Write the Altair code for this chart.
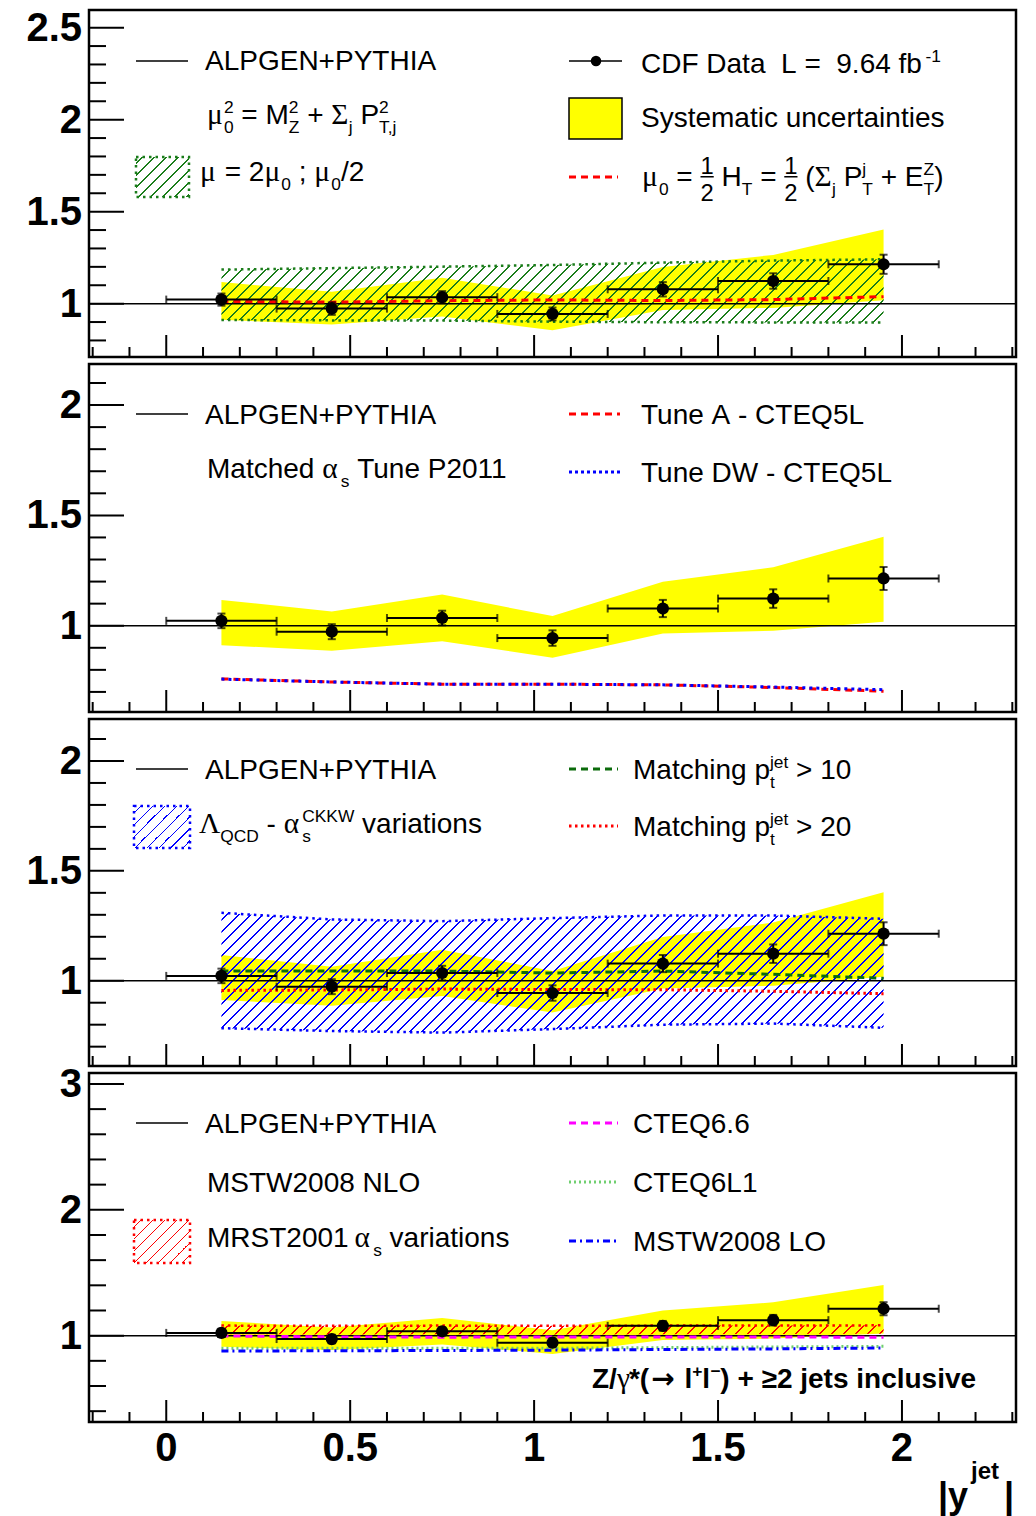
import altair as alt
import pandas as pd

FONT = "Liberation Sans"
SERIF = "Liberation Serif"
ARROWFONT = "DejaVu Sans"

# ---------------- data ----------------
bin_lo = [0.0, 0.3, 0.6, 0.9, 1.2, 1.5, 1.8]
bin_hi = [0.3, 0.6, 0.9, 1.2, 1.5, 1.8, 2.1]
bin_center = [0.15, 0.45, 0.75, 1.05, 1.35, 1.65, 1.95]
cdf_ratio = [1.022, 0.973, 1.035, 0.944, 1.078, 1.123, 1.214]
stat_err = [0.033, 0.034, 0.033, 0.035, 0.039, 0.042, 0.052]
syst_up = [1.117, 1.064, 1.141, 1.044, 1.199, 1.265, 1.403]
syst_dn = [0.912, 0.886, 0.930, 0.855, 0.965, 0.977, 1.018]
# panel 1 : scale variations
scale_up = [1.185, 1.193, 1.201, 1.210, 1.223, 1.234, 1.241]
scale_dn = [0.911, 0.909, 0.908, 0.902, 0.899, 0.898, 0.897]
ht_half = [1.012, 1.008, 1.016, 1.020, 1.017, 1.022, 1.038]
# panel 2 : tunes
tune_a = [0.759, 0.745, 0.735, 0.735, 0.732, 0.720, 0.703]
tune_dw = [0.758, 0.745, 0.735, 0.735, 0.732, 0.722, 0.710]
# panel 3 : Lambda_QCD / matching
lqcd_up = [1.309, 1.279, 1.271, 1.285, 1.297, 1.297, 1.282]
lqcd_dn = [0.784, 0.771, 0.764, 0.780, 0.800, 0.805, 0.786]
match10 = [1.044, 1.044, 1.044, 1.035, 1.044, 1.029, 1.011]
match20 = [0.956, 0.958, 0.962, 0.960, 0.959, 0.952, 0.941]
# panel 4 : PDFs
mrst_up = [1.080, 1.078, 1.080, 1.078, 1.080, 1.080, 1.082]
mrst_dn = [1.012, 1.010, 1.012, 1.010, 1.012, 1.014, 1.016]
cteq66 = [0.998, 0.990, 0.988, 0.990, 0.990, 0.990, 0.987]
cteq6l1 = [0.900, 0.900, 0.900, 0.900, 0.905, 0.910, 0.915]
mstw_lo = [0.878, 0.880, 0.882, 0.885, 0.890, 0.895, 0.902]

# axis ticks / labels
x_major = [0, 0.5, 1, 1.5, 2]
x_labels = ["0", "0.5", "1", "1.5", "2"]
x_minor = [-0.2, -0.1, 0.1, 0.2, 0.3, 0.4, 0.6, 0.7, 0.8, 0.9, 1.1, 1.2,
           1.3, 1.4, 1.6, 1.7, 1.8, 1.9, 2.1, 2.2, 2.3]
y_major = [[1, 1.5, 2, 2.5], [1, 1.5, 2], [1, 1.5, 2], [1, 2, 3]]
y_labels = [["1", "1.5", "2", "2.5"], ["1", "1.5", "2"], ["1", "1.5", "2"], ["1", "2", "3"]]
y_minor = [
    [0.8, 0.9, 1.1, 1.2, 1.3, 1.4, 1.6, 1.7, 1.8, 1.9, 2.1, 2.2, 2.3, 2.4],
    [0.7, 0.8, 0.9, 1.1, 1.2, 1.3, 1.4, 1.6, 1.7, 1.8, 1.9, 2.1],
    [0.7, 0.8, 0.9, 1.1, 1.2, 1.3, 1.4, 1.6, 1.7, 1.8, 1.9, 2.1],
    [0.4, 0.6, 0.8, 1.2, 1.4, 1.6, 1.8, 2.2, 2.4, 2.6, 2.8],
]

df = pd.DataFrame({
    "x": bin_center, "lo": bin_lo, "hi": bin_hi,
    "data": cdf_ratio, "err": stat_err,
    "syst_up": syst_up, "syst_dn": syst_dn,
    "scale_up": scale_up, "scale_dn": scale_dn, "ht_half": ht_half,
    "tune_a": tune_a, "tune_dw": tune_dw,
    "lqcd_up": lqcd_up, "lqcd_dn": lqcd_dn, "match10": match10, "match20": match20,
    "mrst_up": mrst_up, "mrst_dn": mrst_dn, "cteq66": cteq66,
    "cteq6l1": cteq6l1, "mstw_lo": mstw_lo,
})
df["stat_lo"] = df["data"] - df["err"]
df["stat_hi"] = df["data"] + df["err"]

# ---------------- layout ----------------
XDOM = [-0.21, 2.31]
W = 927
PANEL_H = [347, 348, 347, 349]
YDOM = [[0.71, 2.596], [0.609, 2.186], [0.612, 2.191], [0.314, 3.087]]

YELLOW = "#ffff00"
GREEN_H = "#1b7d1b"
DKGREEN = "#0b6b0b"
LTGREEN = "#6fcf6f"
RED = "#ff0000"
BLUE = "#0000ff"
MAGENTA = "#ff00ff"
CLEAR = "rgba(255,255,255,0)"

ONE = pd.DataFrame({"k": [0]})


def hatch(color, w, h, spacing=12.0, lw=1.25):
    """Diagonal '/' hatching as a striped linear gradient in bbox units."""
    L = w + h
    stops = []
    k = 0
    while True:
        a = (k + 0.5) * spacing / L
        if a >= 1:
            break
        b = min(1.0, a + lw * 1.4142 / L)
        stops += [{"offset": a, "color": CLEAR}, {"offset": a, "color": color},
                  {"offset": b, "color": color}, {"offset": b, "color": CLEAR}]
        k += 1
    d = w * w + h * h
    return {"gradient": "linear", "x1": 0, "y1": 0,
            "x2": L * w / d, "y2": L * h / d, "stops": stops}


W_REG = {" ": 278, "(": 333, ")": 333, "*": 389, "+": 584, ",": 278, "-": 333,
         ".": 278, "/": 278, ";": 278, "=": 584, ">": 584, "|": 260,
         "≥": 549, "−": 584,
         "A": 667, "C": 722, "D": 722, "E": 667, "G": 778, "H": 722, "I": 278,
         "K": 667, "L": 556, "M": 833, "N": 722, "O": 778, "P": 667, "Q": 778,
         "R": 722, "S": 667, "T": 611, "W": 944, "Y": 667, "Z": 611,
         "a": 556, "c": 500, "d": 556, "e": 556, "f": 278, "g": 556, "h": 556,
         "i": 222, "j": 222, "l": 222, "m": 833, "n": 556, "o": 556, "p": 556,
         "r": 333, "s": 500, "t": 278, "u": 556, "v": 500, "y": 500}
W_BOLD = dict(W_REG)
W_BOLD.update({"|": 280, "c": 556, "e": 556, "i": 278, "j": 278, "l": 278,
               "n": 611, "s": 556, "t": 333, "u": 611, "v": 556, "y": 556,
               "o": 611})
W_GREEK = {"μ": 576, "α": 631, "Σ": 592, "Λ": 722, "γ": 411}


def tw(s, size, bold=False, greek=False):
    tbl = W_GREEK if greek else (W_BOLD if bold else W_REG)
    return sum(tbl.get(c, 556) for c in s) * size / 1000.0


def txt(t, x, y, size=28, font=FONT, bold=False, color="black"):
    # leading blanks are dropped by the renderer: turn them into an x shift
    n = len(t) - len(t.lstrip(" "))
    x = x + tw(" " * n, size, bold)
    t = t.strip(" ").replace(" ", "\u00a0")
    return alt.Chart(ONE).mark_text(
        text=t, align="left", baseline="alphabetic",
        font=font, fontSize=size, fontWeight="bold" if bold else "normal",
        color=color,
    ).encode(x=alt.value(x), y=alt.value(y))


def hline(x1, x2, y, color, width, dash=None):
    kw = dict(color=color, strokeWidth=width)
    if dash:
        kw["strokeDash"] = dash
    return alt.Chart(ONE).mark_rule(**kw).encode(
        x=alt.value(x1), x2=alt.value(x2), y=alt.value(y))


def box(x1, x2, y1, y2, fill, stroke, width, dash=None):
    kw = dict(fill=fill, stroke=stroke, strokeWidth=width, opacity=1)
    if dash:
        kw["strokeDash"] = dash
    return alt.Chart(ONE).mark_rect(**kw).encode(
        x=alt.value(x1), x2=alt.value(x2), y=alt.value(y1), y2=alt.value(y2))


def rich(parts, x, base, size=28, bold=False):
    out = []
    sm = size * 0.62
    up = base - size * 0.38
    dn = base + size * 0.32
    for p in parts:
        k = p[0]
        if k == "t":
            out.append(txt(p[1], x, base, size, FONT, bold))
            x += tw(p[1], size, bold)
        elif k == "g":
            gs = size * 1.05
            out.append(txt(p[1], x, base, gs, SERIF, False))
            x += tw(p[1], gs, greek=True)
        elif k == "arrow":
            out.append(txt("→", x + 2, base, size, ARROWFONT, bold))
            x += 0.838 * size + 4
        elif k == "sup":
            out.append(txt(p[1], x, up, sm, FONT, bold))
            x += tw(p[1], sm, bold)
        elif k == "sub":
            out.append(txt(p[1], x, dn, sm, FONT, bold))
            x += tw(p[1], sm, bold)
        elif k == "ss":
            out.append(txt(p[1], x, up, sm, FONT, bold))
            out.append(txt(p[2], x, dn, sm, FONT, bold))
            x += max(tw(p[1], sm, bold), tw(p[2], sm, bold))
        elif k == "sp":
            x += p[1]
        elif k == "frac":
            fs = size * 0.85
            fw = max(tw(p[1], fs, bold), tw(p[2], fs, bold))
            bar = base - size * 0.33
            out.append(txt(p[1], x + (fw - tw(p[1], fs, bold)) / 2, bar - 3, fs, FONT, bold))
            out.append(txt(p[2], x + (fw - tw(p[2], fs, bold)) / 2, bar + 24, fs, FONT, bold))
            out.append(hline(x, x + fw, bar, "black", 1.5))
            x += fw
    return out


def build_panel(i, show_x, content, legend):
    H = PANEL_H[i]
    xs = alt.Scale(domain=XDOM, nice=False, zero=False)
    ys = alt.Scale(domain=YDOM[i], nice=False, zero=False)
    ppx = W / (XDOM[1] - XDOM[0])
    ppy = H / (YDOM[i][1] - YDOM[i][0])

    def X(f):
        return alt.X(f, type="quantitative", scale=xs, axis=None)

    def Y(f):
        return alt.Y(f, type="quantitative", scale=ys, axis=None)

    layers = [alt.Chart(df).mark_area(fill=YELLOW, strokeWidth=0, opacity=1).encode(
        x=X("x"), y=Y("syst_dn"), y2=alt.Y2("syst_up"))]

    def hband(lo, hi, color):
        w = (bin_center[-1] - bin_center[0]) * ppx
        h = (df[hi].max() - df[lo].min()) * ppy
        return alt.Chart(df).mark_area(fill=hatch(color, w, h), strokeWidth=0, opacity=1).encode(
            x=X("x"), y=Y(lo), y2=alt.Y2(hi))

    def line(f, color, width, dash=None):
        kw = dict(color=color, strokeWidth=width)
        if dash:
            kw["strokeDash"] = dash
        return alt.Chart(df).mark_line(**kw).encode(x=X("x"), y=Y(f))

    alp = alt.Chart(ONE).mark_rule(color="black", strokeWidth=1.5).encode(
        y=alt.YDatum(1, scale=ys, axis=None, type="quantitative"),
        x=alt.value(0), x2=alt.value(W))

    for item in content:
        kind = item[0]
        if kind == "hband":
            layers.append(hband(item[1], item[2], item[3]))
        elif kind == "line":
            layers.append(line(*item[1:]))
        elif kind == "alp":
            layers.append(alp)

    # data points
    layers += [
        alt.Chart(df).mark_rule(color="black", strokeWidth=2).encode(
            x=X("lo"), x2=alt.X2("hi"), y=Y("data")),
        alt.Chart(df).mark_tick(color="black", orient="vertical", size=8, thickness=2).encode(
            x=X("lo"), y=Y("data")),
        alt.Chart(df).mark_tick(color="black", orient="vertical", size=8, thickness=2).encode(
            x=X("hi"), y=Y("data")),
        alt.Chart(df).mark_rule(color="black", strokeWidth=2).encode(
            x=X("x"), y=Y("stat_lo"), y2=alt.Y2("stat_hi")),
        alt.Chart(df).mark_tick(color="black", orient="horizontal", size=8, thickness=2).encode(
            x=X("x"), y=Y("stat_lo")),
        alt.Chart(df).mark_tick(color="black", orient="horizontal", size=8, thickness=2).encode(
            x=X("x"), y=Y("stat_hi")),
        alt.Chart(df).mark_circle(color="black", size=150, opacity=1).encode(
            x=X("x"), y=Y("data")),
    ]

    # ROOT style inner ticks + tick labels
    layers += [
        alt.Chart(pd.DataFrame({"v": y_major[i]})).mark_rule(color="black", strokeWidth=2).encode(
            y=Y("v:Q"), x=alt.value(0), x2=alt.value(35)),
        alt.Chart(pd.DataFrame({"v": y_minor[i]})).mark_rule(color="black", strokeWidth=2).encode(
            y=Y("v:Q"), x=alt.value(0), x2=alt.value(17)),
        alt.Chart(pd.DataFrame({"v": x_major})).mark_rule(color="black", strokeWidth=2).encode(
            x=X("v:Q"), y=alt.value(H), y2=alt.value(H - 22)),
        alt.Chart(pd.DataFrame({"v": x_minor})).mark_rule(color="black", strokeWidth=2).encode(
            x=X("v:Q"), y=alt.value(H), y2=alt.value(H - 10)),
        alt.Chart(pd.DataFrame({"v": y_major[i], "lab": y_labels[i]})).mark_text(
            align="right", baseline="middle", font=FONT, fontSize=40, fontWeight="bold",
            color="black", dx=-7, dy=1).encode(
            y=Y("v:Q"), x=alt.value(0), text="lab:N"),
    ]
    if show_x:
        layers.append(
            alt.Chart(pd.DataFrame({"v": x_major, "lab": x_labels})).mark_text(
                align="center", baseline="top", font=FONT, fontSize=40, fontWeight="bold",
                color="black").encode(
                x=X("v:Q"), y=alt.value(H + 7), text="lab:N"))
    layers += legend
    return alt.layer(*layers).properties(width=W, height=H)


# ---------------- panel 1 ----------------
leg1 = [hline(47, 99, 51, "black", 1.5), txt("ALPGEN+PYTHIA", 116, 60)]
leg1 += rich([("g", "μ"), ("ss", "2", "0"), ("t", " = M"), ("ss", "2", "Z"), ("t", " + "),
              ("g", "Σ"), ("sub", "j"), ("t", " P"), ("ss", "2", "T,j")], 118, 114)
leg1 += [box(47, 100, 147, 187, hatch(GREEN_H, 53, 40), GREEN_H, 2.5, [2.5, 4])]
leg1 += rich([("g", "μ"), ("t", " = 2"), ("g", "μ"), ("sub", "0"), ("t", " ; "),
              ("g", "μ"), ("sub", "0"), ("t", "/2")], 111, 171)
leg1 += [hline(480, 533, 51, "black", 1.5),
         alt.Chart(ONE).mark_circle(color="black", size=110, opacity=1).encode(
             x=alt.value(507), y=alt.value(51))]
leg1 += rich([("t", "CDF Data  L =  9.64 fb"), ("sp", 5), ("sup", "-1")], 552, 63)
leg1 += [box(480, 533, 88, 129, YELLOW, "black", 1.5), txt("Systematic uncertainties", 552, 117)]
leg1 += [hline(480, 529, 167, RED, 3, [7, 5])]
leg1 += rich([("g", "μ"), ("sub", "0"), ("t", " = "), ("frac", "1", "2"), ("t", " H"),
              ("sub", "T"), ("t", " = "), ("frac", "1", "2"), ("t", " ("), ("g", "Σ"),
              ("sub", "j"), ("t", " P"), ("ss", "j", "T"), ("t", " + E"), ("ss", "Z", "T"),
              ("t", ")")], 553, 176)

content1 = [("hband", "scale_dn", "scale_up", GREEN_H),
            ("line", "scale_up", GREEN_H, 2.5, [2.5, 4]),
            ("line", "scale_dn", GREEN_H, 2.5, [2.5, 4]),
            ("alp",),
            ("line", "ht_half", RED, 3, [7, 5])]

# ---------------- panel 2 ----------------
leg2 = [hline(47, 99, 50, "black", 1.5), txt("ALPGEN+PYTHIA", 116, 60)]
leg2 += rich([("t", "Matched "), ("g", "α"), ("sub", "s"), ("t", " Tune P2011")], 118, 114)
leg2 += [hline(480, 531, 50, RED, 3, [7, 5]), txt("Tune A - CTEQ5L", 552, 60),
         hline(480, 531, 108, BLUE, 3, [3, 3]), txt("Tune DW - CTEQ5L", 552, 118)]
content2 = [("alp",),
            ("line", "tune_a", RED, 3, [7, 5]),
            ("line", "tune_dw", BLUE, 3, [3, 4])]

# ---------------- panel 3 ----------------
leg3 = [hline(47, 99, 50, "black", 1.5), txt("ALPGEN+PYTHIA", 116, 60)]
leg3 += [box(45, 101, 87, 129, hatch(BLUE, 56, 42), BLUE, 2.5, [2.5, 4])]
leg3 += rich([("g", "Λ"), ("sub", "QCD"), ("t", " - "), ("g", "α"), ("ss", "CKKW", "s"),
              ("t", " variations")], 110, 114)
leg3 += [hline(480, 529, 50, DKGREEN, 3, [7, 5])]
leg3 += rich([("t", "Matching p"), ("ss", "jet", "t"), ("t", " > 10")], 544, 60)
leg3 += [hline(480, 529, 107, RED, 3, [2.5, 3.5])]
leg3 += rich([("t", "Matching p"), ("ss", "jet", "t"), ("t", " > 20")], 544, 117)
content3 = [("hband", "lqcd_dn", "lqcd_up", BLUE),
            ("line", "lqcd_up", BLUE, 2.5, [2.5, 4]),
            ("line", "lqcd_dn", BLUE, 2.5, [2.5, 4]),
            ("alp",),
            ("line", "match10", DKGREEN, 3, [7, 5]),
            ("line", "match20", RED, 3, [2.5, 3.5])]

# ---------------- panel 4 ----------------
leg4 = [hline(47, 99, 50, "black", 1.5), txt("ALPGEN+PYTHIA", 116, 60),
        txt("MSTW2008 NLO", 118, 119)]
leg4 += [box(45, 101, 147, 190, hatch(RED, 56, 43), RED, 2.5, [2.5, 4])]
leg4 += rich([("t", "MRST2001"), ("sp", 6), ("g", "α"), ("sub", "s"), ("t", " variations")], 118, 174)
leg4 += [hline(480, 529, 50, MAGENTA, 3, [7, 5]), txt("CTEQ6.6", 544, 60),
         hline(480, 529, 109, LTGREEN, 3, [2, 3]), txt("CTEQ6L1", 544, 119),
         hline(480, 529, 168, BLUE, 3, [7, 4, 2, 4]), txt("MSTW2008 LO", 544, 178)]
leg4 += rich([("t", "Z/"), ("g", "γ"), ("t", "*("), ("arrow",), ("t", " l"), ("sup", "+"),
              ("t", "l"), ("sup", "−"), ("t", ") + ≥2 jets inclusive")], 503, 315, 28, bold=True)
# x-axis title |y^jet|
leg4 += [txt("|y", 849, 435, 36, FONT, True), txt("jet", 882, 406, 24, FONT, True),
         txt("|", 915, 435, 36, FONT, True)]
content4 = [("hband", "mrst_dn", "mrst_up", RED),
            ("line", "mrst_up", RED, 2.5, [2.5, 4]),
            ("alp",),
            ("line", "cteq66", MAGENTA, 3, [7, 5]),
            ("line", "cteq6l1", LTGREEN, 3, [2, 3]),
            ("line", "mstw_lo", BLUE, 3, [7, 4, 2, 4])]

panels = [
    build_panel(0, False, content1, leg1),
    build_panel(1, False, content2, leg2),
    build_panel(2, False, content3, leg3),
    build_panel(3, True, content4, leg4),
]

chart = alt.vconcat(*panels, spacing=7, bounds="flush").properties(
    padding={"left": 25, "top": 7, "right": 0, "bottom": 0},
    background="white",
).configure_view(stroke="black", strokeWidth=2.5)

chart.save("out.html", embed_options={"renderer": "svg", "actions": False})
